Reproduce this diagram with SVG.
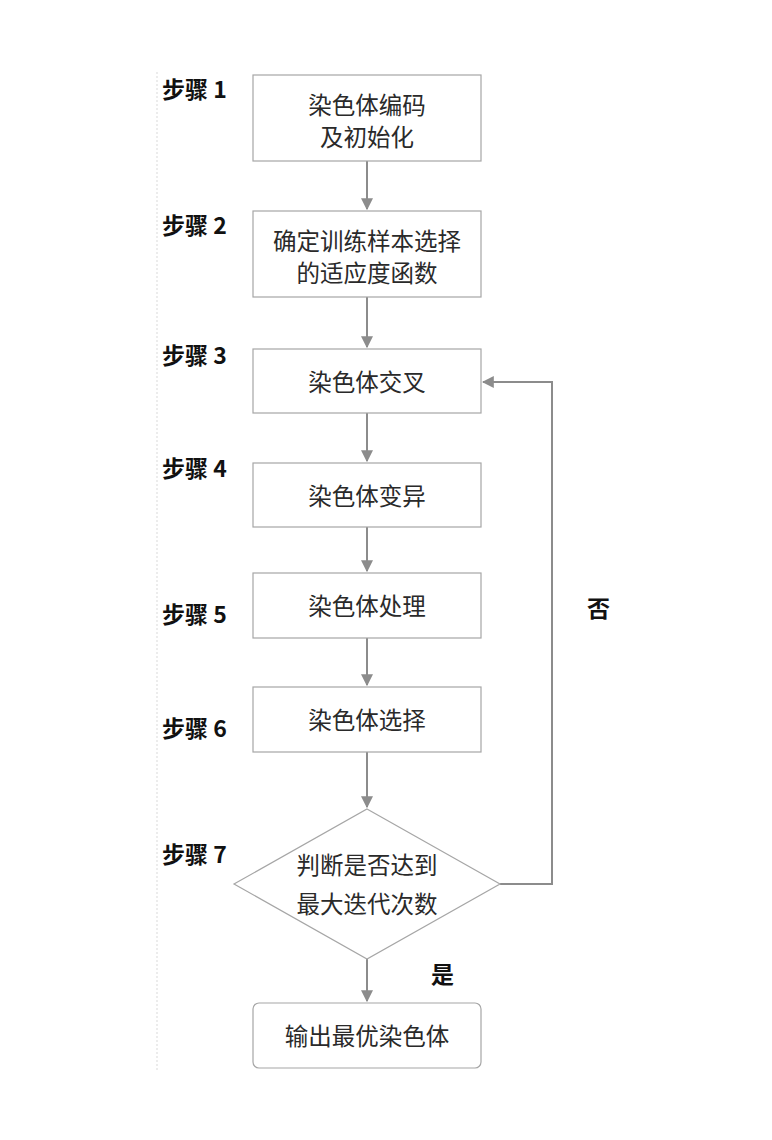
<svg xmlns="http://www.w3.org/2000/svg" width="772" height="1140" viewBox="0 0 772 1140">
<style>
.box{fill:#fff;stroke:#a6a6a6;stroke-width:1.2}
.t{font-family:"Noto Sans CJK SC","Noto Sans",sans-serif;font-size:23.5px;fill:#2a2a2a;text-anchor:middle;dominant-baseline:central}
.s{font-family:"Noto Sans CJK SC","Liberation Sans",sans-serif;font-size:23px;font-weight:bold;fill:#111;dominant-baseline:central}
.c{fill:none;stroke:#8c8c8c;stroke-width:2}
</style>
<defs>
<marker id="ah" viewBox="0 0 10 10" refX="9" refY="5" markerWidth="6" markerHeight="6" orient="auto" markerUnits="strokeWidth">
<path d="M0,0 L10,5 L0,10 z" fill="#8c8c8c"/>
</marker>
</defs>
<rect width="772" height="1140" fill="#fff"/>
<line x1="157" y1="72" x2="157" y2="1072" stroke="#d9d9d9" stroke-width="1" stroke-dasharray="2,2"/>
<g id="labels">
<text class="s" x="162" y="88">步骤 1</text>
<text class="s" x="162" y="224">步骤 2</text>
<text class="s" x="162" y="354">步骤 3</text>
<text class="s" x="162" y="467">步骤 4</text>
<text class="s" x="162" y="613">步骤 5</text>
<text class="s" x="162" y="727">步骤 6</text>
<text class="s" x="162" y="853">步骤 7</text>
<text class="s" x="587" y="607">否</text>
<text class="s" x="431" y="973">是</text>
</g>
<g id="connectors">
<line class="c" x1="367" y1="161" x2="367" y2="209" marker-end="url(#ah)"/>
<line class="c" x1="367" y1="297" x2="367" y2="347" marker-end="url(#ah)"/>
<line class="c" x1="367" y1="413" x2="367" y2="461" marker-end="url(#ah)"/>
<line class="c" x1="367" y1="527" x2="367" y2="571" marker-end="url(#ah)"/>
<line class="c" x1="367" y1="638" x2="367" y2="685" marker-end="url(#ah)"/>
<line class="c" x1="367" y1="752" x2="367" y2="807" marker-end="url(#ah)"/>
<line class="c" x1="367" y1="959" x2="367" y2="1001" marker-end="url(#ah)"/>
<polyline class="c" points="500,884 552,884 552,382 483,382" marker-end="url(#ah)"/>
</g>
<g id="n1"><rect class="box" x="253" y="75" width="228" height="86"/>
<text class="t" x="367" y="104">染色体编码</text><text class="t" x="367" y="136">及初始化</text></g>
<g id="n2"><rect class="box" x="253" y="211" width="228" height="86"/>
<text class="t" x="367" y="240">确定训练样本选择</text><text class="t" x="367" y="272">的适应度函数</text></g>
<g id="n3"><rect class="box" x="253" y="349" width="228" height="64"/>
<text class="t" x="367" y="381">染色体交叉</text></g>
<g id="n4"><rect class="box" x="253" y="463" width="228" height="64"/>
<text class="t" x="367" y="495">染色体变异</text></g>
<g id="n5"><rect class="box" x="253" y="573" width="228" height="65"/>
<text class="t" x="367" y="605">染色体处理</text></g>
<g id="n6"><rect class="box" x="253" y="687" width="228" height="65"/>
<text class="t" x="367" y="719">染色体选择</text></g>
<g id="n7"><polygon class="box" points="367,809 500,884 367,959 234,884"/>
<text class="t" x="367" y="864">判断是否达到</text><text class="t" x="367" y="903">最大迭代次数</text></g>
<g id="n8"><rect class="box" x="253" y="1003" width="228" height="65" rx="6"/>
<text class="t" x="367" y="1035">输出最优染色体</text></g>
</svg>
